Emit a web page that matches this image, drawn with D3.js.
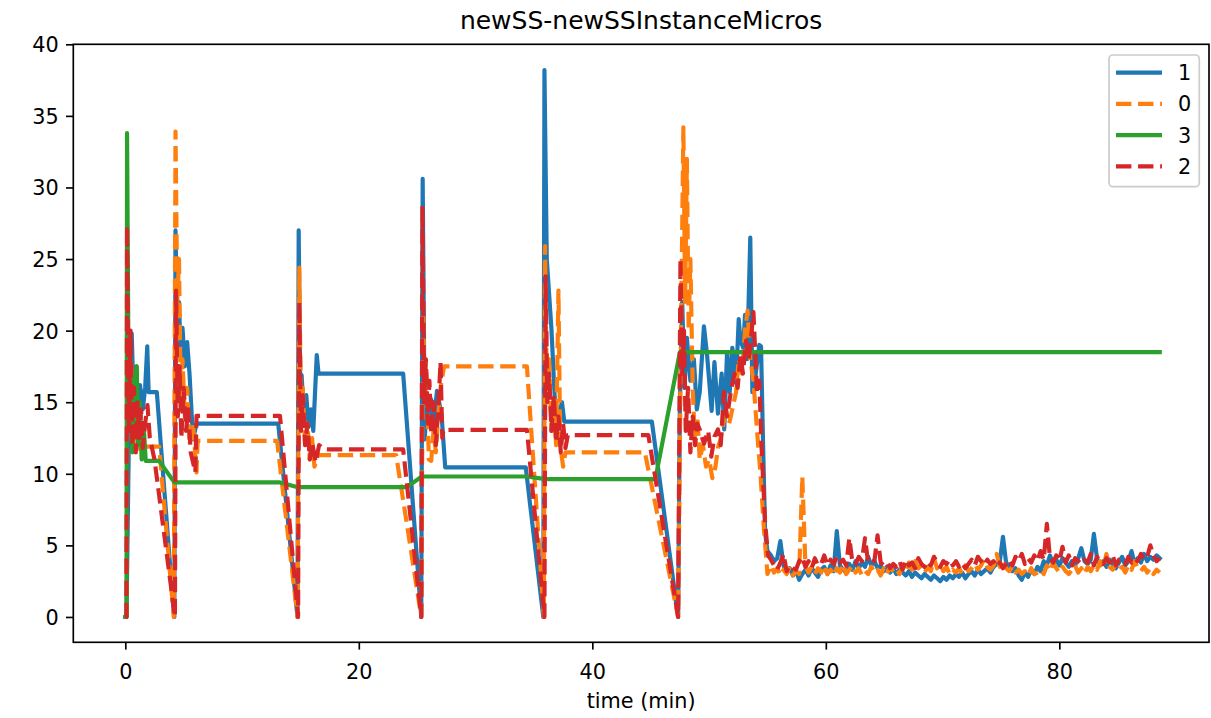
<!DOCTYPE html>
<html><head><meta charset="utf-8">
<script src="https://cdn.jsdelivr.net/npm/d3@7"></script>
<style>body{margin:0;background:#fff}svg{display:block;font-family:"DejaVu Sans",sans-serif}</style>
</head><body><svg id="c" width="1211" height="718"></svg>
<script>
const chartTitle = "newSS-newSSInstanceMicros";
const xLabel = "time (min)";
const xTicks = [0, 20, 40, 60, 80];
const yTicks = [0, 5, 10, 15, 20, 25, 30, 35, 40];
const seriesNames = ["1", "0", "3", "2"];
const seriesColors = ["#1f77b4", "#ff7f0e", "#2ca02c", "#d62728"];
const seriesDashed = [false, true, false, true];

// [time (min), value]
const s1 = [[0,0],[0.1,0],[0.3,12],[0.55,19.8],[0.75,14],[0.95,17.5],[1.1,13],[1.26,16.2],[1.5,14.5],[1.7,16],[1.88,18.9],[2.0,15.7],[2.7,15.7],[4.1,0.8],[4.2,0],[4.3,27],[4.45,20],[4.6,22],[4.75,18],[4.9,20.2],[5.1,17.5],[5.3,19.2],[5.5,17],[5.8,12.4],[6.1,13.5],[13.1,13.5],[14.75,0],[14.85,27],[15.0,15],[15.1,16.9],[15.3,14],[15.5,15.5],[15.7,13.3],[15.9,14.5],[16.1,13.0],[16.4,18.3],[16.55,17.0],[23.8,17.0],[25.35,0],[25.47,30.6],[25.65,12.4],[25.8,15],[26.0,14],[26.2,15.2],[26.4,13.5],[26.7,15.8],[27.1,14],[27.4,10.45],[34.3,10.45],[35.8,0],[35.9,38.2],[36.1,25],[36.5,20.1],[36.8,15],[37.1,14],[37.4,15],[37.6,13.65],[45.1,13.65],[47.35,0],[47.5,15],[47.7,22],[47.9,16],[48.1,19.5],[48.4,16.5],[48.7,18],[48.95,14.5],[49.2,15.7],[49.56,20.3],[49.83,18.3],[50.22,14.4],[50.46,17.8],[50.76,14.2],[51.08,17],[51.3,13.1],[51.54,18.5],[51.77,15.7],[51.99,18.8],[52.31,16.4],[52.54,20.8],[52.69,19.3],[52.92,18.8],[53.08,21.1],[53.26,18],[53.53,26.5],[53.71,15.7],[54.0,17],[54.3,19],[54.45,18.9],[54.6,13],[54.8,5.9],[55.0,4.6]];
const s0 = [[0,0],[0.1,0],[0.2,20],[0.35,13],[0.5,18],[0.7,12],[0.9,15],[1.1,11.5],[1.3,14],[1.5,12],[1.7,11.9],[2.9,11.9],[4.15,0],[4.3,33.9],[4.45,22],[4.6,25],[4.75,15],[4.9,18],[5.1,14],[5.3,16],[5.5,12],[5.8,13.5],[6.1,10.1],[6.2,12.3],[13.0,12.3],[14.75,0],[14.9,24.4],[15.05,14],[15.2,16],[15.4,12],[15.6,13.5],[15.8,11],[16.0,12.5],[16.2,10.5],[16.5,11.3],[23.2,11.3],[25.35,0],[25.5,22],[25.65,15],[25.8,17],[26.0,11],[26.2,10.9],[26.4,13],[26.6,11.5],[26.8,14],[27.0,16],[27.3,17.5],[34.4,17.5],[35.85,0],[35.95,25.9],[36.1,16],[36.3,18],[36.5,13],[36.7,15],[36.9,12],[37.1,22.8],[37.25,12],[37.5,10.5],[37.7,11.5],[44.5,11.5],[47.35,0],[47.6,20],[47.8,34.2],[47.95,22],[48.1,32],[48.25,20],[48.4,25],[48.6,16],[48.8,12],[49.0,14],[49.2,11.0],[49.47,12],[49.74,10.5],[50.01,11],[50.28,9.7],[50.55,10.5],[50.76,11.8],[51.0,12.5],[51.36,14.1],[51.72,13.5],[51.99,14.5],[52.31,15.7],[52.54,18],[52.81,17],[53.08,20],[53.3,21.4],[53.53,18],[53.8,16.5],[54.1,13.1],[54.4,10.0],[54.72,5.9],[55.0,3.0]];
const s3 = [[0,0],[0.1,0],[0.15,33.8],[0.3,14],[0.45,18],[0.6,11.5],[0.8,16.5],[0.98,17.5],[1.1,12],[1.25,15],[1.4,11],[1.6,13],[1.75,10.9],[2.9,10.9],[4.2,9.4],[13.25,9.4],[14.7,9.07],[24.1,9.07],[25.4,9.81],[34.4,9.81],[36.0,9.63],[45.4,9.63],[47.5,18.5],[88.6,18.5]];
const s2 = [[0,0],[0.1,0],[0.15,27.3],[0.3,13],[0.45,20],[0.6,12],[0.75,16],[0.9,11.5],[1.05,15],[1.2,12.5],[1.35,14.5],[1.5,11.8],[1.7,13.5],[1.9,14.8],[2.1,12.5],[2.5,11],[4.25,0],[4.35,22.8],[4.5,14],[4.65,17.5],[4.8,12.5],[5.0,16],[5.2,13],[5.4,14.5],[5.6,11.5],[6.0,10.1],[6.1,14.05],[13.25,14.05],[14.8,0],[14.9,22],[15.05,13],[15.2,15.5],[15.4,12],[15.6,13.5],[15.8,11],[16.0,12.2],[16.3,10.8],[16.6,12],[17.1,11.7],[23.8,11.7],[25.35,0],[25.45,28.7],[25.6,15],[25.75,18],[25.9,13.5],[26.05,16.5],[26.2,12.8],[26.4,15],[26.6,12],[26.8,14.5],[27.0,17.8],[27.15,12.5],[27.25,13.07],[34.4,13.07],[35.9,0],[36.0,23.8],[36.15,15],[36.3,17],[36.5,13],[36.7,15.5],[36.9,12.2],[37.1,14],[37.3,11.5],[37.5,13.5],[37.7,11.8],[37.9,12.7],[44.8,12.7],[47.35,0],[47.55,25],[47.7,17],[47.85,20],[48.0,13],[48.2,16],[48.4,11.5],[48.6,14],[48.8,12],[49.0,13.5],[49.2,13.1],[49.56,12.1],[49.92,13],[50.19,11.2],[50.46,12.6],[50.76,13.1],[51.0,12],[51.27,15.7],[51.54,14],[51.9,15.9],[52.18,17],[52.45,16],[52.69,18.3],[52.9,17],[53.17,19.3],[53.4,18],[53.6,19.5],[53.8,21.3],[54.1,15.7],[54.3,16.5],[54.5,11.8],[54.8,6.6],[55.05,4.3]];

// steady-state tail, evenly sampled between tailStart and tailEnd
const tailStart = 55.3, tailEnd = 88.6;
const tail1 = [4.3,3.9,4.1,5.3,3.6,3.1,3.4,2.9,3.2,2.6,
  3.0,3.3,2.9,3.4,3.1,2.8,3.3,3.5,3.0,3.6,
  3.2,6.0,3.6,3.3,3.1,3.7,3.3,3.9,3.4,3.8,
  3.5,4.2,3.6,3.9,3.4,3.6,3.2,3.5,3.1,3.4,
  3.0,3.3,3.1,2.9,3.2,2.8,3.1,2.9,2.7,3.0,
  2.8,2.6,2.9,2.7,2.5,2.8,2.6,2.9,2.7,3.0,
  2.8,3.1,2.7,3.0,3.2,2.9,3.3,3.0,3.2,3.4,
  3.1,3.5,3.7,3.9,5.6,3.8,3.5,3.2,3.4,2.9,
  2.6,3.1,2.8,3.3,3.0,3.5,3.2,3.9,3.6,4.3,
  3.7,4.0,3.6,4.1,3.8,3.5,3.9,3.6,4.1,4.8,
  3.9,3.7,4.0,5.8,4.1,3.6,3.9,3.5,4.0,3.7,
  3.4,3.8,4.2,3.6,3.9,4.6,3.7,4.1,3.8,4.4,
  3.9,4.2,4.0,4.3,4.1];
const tail0 = [3.6,3.1,3.4,2.9,3.3,3.0,3.5,2.9,3.2,3.0,
  9.8,3.6,3.1,3.5,3.0,3.4,3.1,3.6,3.0,3.3,
  2.9,3.4,3.1,3.7,3.0,3.3,3.6,3.1,3.4,2.9,
  3.2,3.0,3.5,3.1,3.3,2.9,3.4,3.0,3.6,3.1,
  3.3,3.0,3.6,3.2,3.8,3.3,3.9,3.4,3.6,3.1,
  3.5,3.2,4.1,3.4,3.7,3.2,3.5,3.0,3.3,3.1,
  3.4,3.0,3.6,3.2,3.4,3.7,3.3,3.6,4.0,3.5,
  3.3,3.6,4.4,3.5,3.9,3.4,3.2,3.5,3.1,3.3,
  3.0,3.2,2.9,3.4,3.0,3.1,3.3,3.0,3.6,3.2,
  3.8,3.4,3.1,3.5,3.2,3.0,3.3,3.6,3.1,3.4,
  3.0,3.5,3.2,3.6,3.3,3.9,3.4,4.4,3.5,3.3,
  3.7,3.2,3.5,3.1,3.6,3.3,3.9,3.4,3.2,3.5,
  3.1,3.4,3.0,3.3,3.1];
const tail2 = [4.0,3.6,3.3,3.8,4.4,3.2,3.6,3.4,3.3,3.9,
  4.2,3.5,3.9,3.4,4.1,3.6,3.7,4.3,3.6,4.0,
  3.7,4.2,3.8,4.0,3.6,5.5,3.8,3.7,4.2,3.9,
  5.5,3.8,4.0,3.9,5.7,3.8,3.6,3.8,3.4,3.7,
  3.5,3.9,3.3,4.0,3.6,3.8,3.4,4.1,3.7,3.5,
  3.9,3.6,4.2,3.8,3.5,3.9,3.7,4.0,3.6,3.9,
  3.5,3.8,3.4,3.7,4.0,3.6,4.2,3.9,3.6,4.0,
  3.7,3.9,3.5,3.8,3.4,3.7,4.0,3.6,4.2,3.9,
  4.4,3.7,4.1,3.8,4.3,3.9,4.6,4.0,6.5,4.1,
  3.8,4.3,3.9,4.9,3.8,4.3,3.6,4.1,3.9,3.7,
  4.0,3.8,4.4,3.6,4.2,3.9,3.7,4.1,3.8,4.3,
  3.6,4.0,3.9,3.7,4.2,3.8,4.1,3.9,4.4,4.0,
  4.2,5.0,4.3,3.9,4.1];

function withTail(head, tail) {
  if (!tail) return head;
  const step = (tailEnd - tailStart) / (tail.length - 1);
  return head.concat(tail.map((v, i) => [tailStart + i * step, v]));
}
const seriesData = [withTail(s1, tail1), withTail(s0, tail0), s3, withTail(s2, tail2)];

const W = 1211, H = 718;
const L = 73.3, R = 1209, T = 44.3, B = 642.3;
const svg = d3.select("#c");
svg.append("rect").attr("width", W).attr("height", H).attr("fill", "#fff");

const x = d3.scaleLinear().domain([-4.454, 92.82]).range([L, R]);
const y = d3.scaleLinear().domain([-1.77, 40.0]).range([B, T]);

svg.append("defs").append("clipPath").attr("id", "clip")
  .append("rect").attr("x", L).attr("y", T).attr("width", R - L).attr("height", B - T);

const fs = 20.8;
// x axis
const xAxis = svg.append("g").attr("transform", `translate(0,${B})`)
  .call(d3.axisBottom(x).tickValues(xTicks).tickSize(7.3).tickPadding(7.3).tickFormat(d3.format("d")));
xAxis.select(".domain").remove();
xAxis.selectAll(".tick line").attr("stroke", "#000").attr("stroke-width", 1.67);
xAxis.selectAll(".tick text").attr("font-size", fs).attr("fill", "#000")
  .attr("font-family", "DejaVu Sans").attr("dy", null).attr("y", 36.7);

// y axis
const yAxis = svg.append("g").attr("transform", `translate(${L},0)`)
  .call(d3.axisLeft(y).tickValues(yTicks).tickSize(7.3).tickPadding(7.3).tickFormat(d3.format("d")));
yAxis.select(".domain").remove();
yAxis.selectAll(".tick line").attr("stroke", "#000").attr("stroke-width", 1.67);
yAxis.selectAll(".tick text").attr("font-size", fs).attr("fill", "#000")
  .attr("font-family", "DejaVu Sans").attr("dy", "0.36em");

// lines
const line = d3.line().x(d => x(d[0])).y(d => y(d[1]));
const lg = svg.append("g").attr("clip-path", "url(#clip)");
seriesData.forEach((data, i) => {
  lg.append("path").datum(data).attr("d", line)
    .attr("fill", "none").attr("stroke", seriesColors[i]).attr("stroke-width", 4.17)
    .attr("stroke-linejoin", "round")
    .attr("stroke-linecap", seriesDashed[i] ? "butt" : "square")
    .attr("stroke-dasharray", seriesDashed[i] ? "15.4,6.67" : null);
});

// frame
svg.append("rect").attr("x", L).attr("y", T).attr("width", R - L).attr("height", B - T)
  .attr("fill", "none").attr("stroke", "#000").attr("stroke-width", 1.67);

// title & label
svg.append("text").attr("x", (L + R) / 2).attr("y", 28.5).attr("text-anchor", "middle")
  .attr("font-size", 25).attr("fill", "#000").text(chartTitle);
svg.append("text").attr("x", (L + R) / 2).attr("y", 708).attr("text-anchor", "middle")
  .attr("font-size", fs).attr("fill", "#000").text(xLabel);

// legend
const leg = svg.append("g");
leg.append("rect").attr("x", 1109).attr("y", 55).attr("width", 90.3).attr("height", 131.7)
  .attr("rx", 4).attr("fill", "#fff").attr("fill-opacity", 0.8)
  .attr("stroke", "#cccccc").attr("stroke-width", 1.7);
seriesNames.forEach((name, i) => {
  const ly = 72.7 + i * 31.2;
  leg.append("line").attr("x1", 1116).attr("x2", 1162).attr("y1", ly).attr("y2", ly)
    .attr("stroke", seriesColors[i]).attr("stroke-width", 4.17)
    .attr("stroke-dasharray", seriesDashed[i] ? "15.4,6.67" : null);
  leg.append("text").attr("x", 1178).attr("y", ly).attr("dy", "0.36em")
    .attr("font-size", fs).attr("fill", "#000").text(name);
});
</script></body></html>
